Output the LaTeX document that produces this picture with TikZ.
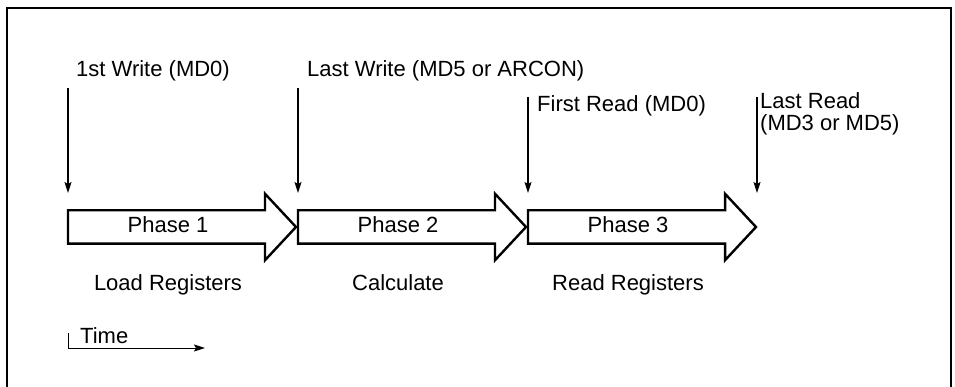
\documentclass[tikz,border=0pt]{standalone}
\usepackage{fontspec}
\setmainfont{Liberation Sans}
\usetikzlibrary{arrows.meta,shapes.arrows}
\begin{document}
\begin{tikzpicture}[x=1pt,y=-1pt,
    font=\fontsize{22}{22}\selectfont,
    phase/.style={single arrow, draw, line width=2.4pt, minimum height=228pt,
      single arrow head extend=16.5pt, single arrow tip angle=94,
      inner sep=0pt, outer sep=0pt, text height=23pt, text depth=8pt, anchor=tail},
    ptr/.style={-{Stealth[length=11pt,width=7pt,inset=2pt]}, line width=1.3pt},
    txt/.style={inner sep=0pt}]
    \useasboundingbox (0,0) rectangle (955,387);
    % Rahmen
    \draw[line width=1.8pt] (7,387) -- (7,8) -- (951,8) -- (951,387);

    % Phasen
    \node[phase] (p1) at (68,227) {};
    \node[phase] (p2) at (298,227) {};
    \node[phase] (p3) at (528,227) {};
    \node[txt, anchor=base] (ph1) at ([xshift=100pt,yshift=-6pt]p1.tail) {Phase 1};
    \node[txt, anchor=base] (ph2) at ([xshift=100pt,yshift=-6pt]p2.tail) {Phase 2};
    \node[txt, anchor=base] (ph3) at ([xshift=100pt,yshift=-6pt]p3.tail) {Phase 3};

    % Zugriffe
    \node[txt, anchor=base west] (w1) at (76,77) {1st Write (MD0)};
    \node[txt, anchor=base west] (w2) at (307,77) {Last Write (MD5 or ARCON)};
    \node[txt, anchor=base west] (r1) at (537,112) {First Read (MD0)};
    \node[txt, anchor=west, align=left] (r2) at (760,114) {Last Read\\(MD3 or MD5)};
    \coordinate (a1) at (68,88);
    \coordinate (a2) at (298,88);
    \coordinate (a3) at (528,97);
    \coordinate (a4) at (757,97);
    \coordinate (e4) at (a4 |- p3.tail);
    \draw[ptr] (a1) -- ([yshift=34pt]p1.tail);
    \draw[ptr] (a2) -- ([yshift=34pt]p2.tail);
    \draw[ptr] (a3) -- ([yshift=34pt]p3.tail);
    \draw[ptr] (a4) -- ([yshift=34pt]e4);

    % Bedeutung
    \node[txt, anchor=base] (d1) at (168,290) {Load Registers};
    \node[txt, anchor=base] (d2) at (398,290) {Calculate};
    \node[txt, anchor=base] (d3) at (628,290) {Read Registers};

    % Zeit
    \coordinate (tk) at (68,333);
    \coordinate (t0) at (68,348);
    \coordinate (t1) at (205,348);
    \draw[ptr, line width=1pt] (tk) -- (t0) -- (t1);
    \node[txt, anchor=base west] (tm) at (80,343) {Time};
\end{tikzpicture}
\end{document}
